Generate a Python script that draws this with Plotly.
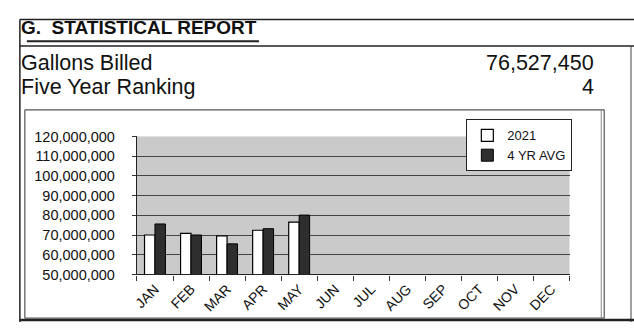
import plotly.graph_objects as go

# Monthly gallons billed vs. the four-year average
months = ["JAN", "FEB", "MAR", "APR", "MAY", "JUN", "JUL", "AUG", "SEP", "OCT", "NOV", "DEC"]
gallons_2021 = [70_000_000, 70_800_000, 69_600_000, 72_400_000, 76_527_450,
                None, None, None, None, None, None, None]
four_yr_avg = [75_600_000, 70_000_000, 65_500_000, 73_200_000, 80_100_000,
               None, None, None, None, None, None, None]

y_ticks = [50_000_000, 60_000_000, 70_000_000, 80_000_000, 90_000_000,
           100_000_000, 110_000_000, 120_000_000]

header_title = "G.  STATISTICAL REPORT"
summary_labels = ["Gallons Billed", "Five Year Ranking"]
summary_values = ["76,527,450", "4"]

W, H = 634, 330
FONT = "Liberation Sans, Arial, sans-serif"


def px(x):
    return x / W


def py(y):
    return 1 - y / H


def pline(x0, y0, x1, y1, color="#222", width=1.5):
    return dict(type="line", xref="paper", yref="paper",
                x0=px(x0), x1=px(x1), y0=py(y0), y1=py(y1),
                line=dict(color=color, width=width))


fig = go.Figure()
fig.add_trace(go.Bar(
    x=months, y=gallons_2021, name="2021",
    marker=dict(color="white", line=dict(color="black", width=1.2)),
))
fig.add_trace(go.Bar(
    x=months, y=four_yr_avg, name="4 YR AVG",
    marker=dict(color="#2e2e2e", line=dict(color="black", width=1)),
))

shapes = [
    # outer report box
    pline(15, 12, 634, 12),
    pline(15, 12, 15, 330),
    pline(15, 40, 634, 40),
    pline(631, 40, 631, 330, "#444", 1),
    pline(15, 328, 634, 328, "#222", 2.5),
    # title underline
    pline(22, 35, 256, 35, "#222", 2),
    # chart frame
    pline(20, 107, 604, 107, "#555", 1.2),
    pline(20, 326, 604, 326, "#555", 1.2),
    pline(20, 107, 20, 326, "#555", 1.2),
    pline(604, 107, 604, 326, "#555", 1.2),
    pline(601, 107, 601, 326, "#888", 1),
]

annotations = [
    dict(text=f"<b>{header_title}</b>", xref="paper", yref="paper",
         x=px(14), y=py(20), xanchor="left", yanchor="middle",
         showarrow=False, font=dict(family=FONT, size=19, color="#111")),
]
for i, (lab, val) in enumerate(zip(summary_labels, summary_values)):
    yc = 58 + i * 25
    annotations.append(dict(text=lab, xref="paper", yref="paper",
                            x=px(14), y=py(yc), xanchor="left", yanchor="middle",
                            showarrow=False, font=dict(family=FONT, size=21.5, color="#111")))
    annotations.append(dict(text=val, xref="paper", yref="paper",
                            x=px(596), y=py(yc), xanchor="right", yanchor="middle",
                            showarrow=False, font=dict(family=FONT, size=21.5, color="#111")))

fig.update_layout(
    width=W, height=H,
    margin=dict(l=0, r=0, t=0, b=0),
    paper_bgcolor="white",
    plot_bgcolor="#cacaca",
    barmode="group",
    bargap=0.42,
    bargroupgap=0.0,
    font=dict(family=FONT, size=13, color="#111"),
    shapes=shapes,
    annotations=annotations,
    legend=dict(
        x=px(465), y=py(117), xanchor="left", yanchor="top",
        bgcolor="white", bordercolor="#222", borderwidth=1,
        font=dict(family=FONT, size=13, color="#111"),
        itemwidth=30, tracegroupgap=0,
    ),
    xaxis=dict(
        domain=[px(133), px(569)],
        range=[-0.5, 11.5],
        tickangle=-45,
        showline=True, linecolor="#222", linewidth=1.2,
        ticks="outside", ticklen=5, tickcolor="#333",
        tickson="boundaries",
        showgrid=False,
        tickfont=dict(family=FONT, size=14, color="#111"),
    ),
    yaxis=dict(
        domain=[py(280), py(135)],
        range=[50_000_000, 120_000_000],
        tickvals=y_ticks,
        tickformat=",d",
        showline=True, linecolor="#222", linewidth=1.2,
        ticks="outside", ticklen=4, tickcolor="#333",
        ticklabelstandoff=14,
        showgrid=True, gridcolor="#444", gridwidth=1,
        tickfont=dict(family=FONT, size=14.5, color="#111"),
    ),
)

fig.write_html("out.html")
